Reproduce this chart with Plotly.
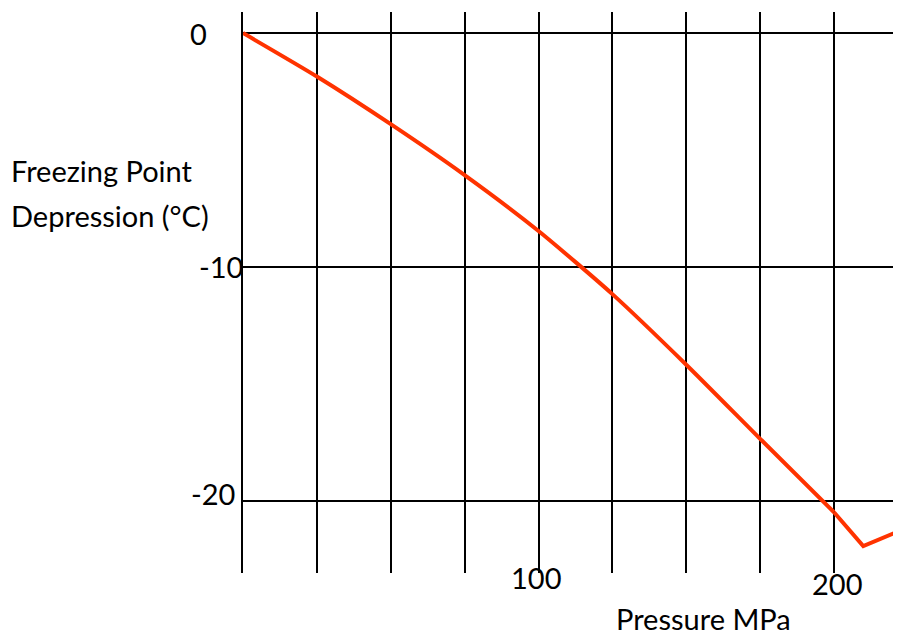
import plotly.graph_objects as go

# Data
pressure_mpa = [0, 25, 50, 75, 100, 125, 150, 175, 200]
freezing_c = [0, -1.86, -3.9, -6.08, -8.47, -11.17, -14.19, -17.36, -20.5]
pressure_tail = [200, 209.9, 222.7]
freezing_tail = [-20.5, -21.95, -21.27]

x_tick_vals = [100, 200]
x_tick_text = ["100", "200"]
y_tick_vals = [0, -10, -20]
y_tick_text = ["0", "-10", "-20"]

x_title = "Pressure MPa"
y_title_lines = ["Freezing Point", "Depression (\u00b0C)"]

# The page body has an 8px margin, so the figure is drawn 8px in from the window corner.
OFF = 8
W, H = 901 - OFF, 637 - OFF
# screen-space plot area: x 243..901, y 12..573
L, R, T = 243 - OFF, 0, 12 - OFF
B = H - (573 - OFF)
PW, PH = W - L - R, H - T - B

def px(xs):
    return (xs - OFF - L) / PW

def py(ys):
    return (H - B - (ys - OFF)) / PH

FONT = "Lato"
FS = 29
LINE_COLOR = "#FF3300"

fig = go.Figure()
fig.add_trace(go.Scatter(x=pressure_mpa, y=freezing_c, mode="lines",
                         line=dict(color=LINE_COLOR, width=4, shape="spline", smoothing=0.6),
                         hoverinfo="skip"))
fig.add_trace(go.Scatter(x=pressure_tail, y=freezing_tail, mode="lines",
                         line=dict(color=LINE_COLOR, width=4),
                         hoverinfo="skip"))

annotations = []
# x tick labels (pixel centres)
x_lab_pos = [(535.5, 577), (837, 583.5)]
for txt, (cx, cy) in zip(x_tick_text, x_lab_pos):
    annotations.append(dict(text=txt, x=px(cx), y=py(cy), xref="paper", yref="paper",
                            xanchor="center", yanchor="middle", showarrow=False,
                            font=dict(family=FONT, size=FS, color="black")))
# y tick labels (right edge, centre y)
y_lab_pos = [(209, 33), (245, 266), (237, 493)]
for txt, (rx, cy) in zip(y_tick_text, y_lab_pos):
    annotations.append(dict(text=txt, x=px(rx), y=py(cy), xref="paper", yref="paper",
                            xanchor="right", yanchor="middle", showarrow=False,
                            font=dict(family=FONT, size=FS, color="black")))
# axis titles
for txt, cy in zip(y_title_lines, [170, 215.5]):
    annotations.append(dict(text=txt, x=px(9), y=py(cy), xref="paper", yref="paper",
                            xanchor="left", yanchor="middle", align="left", showarrow=False,
                            font=dict(family=FONT, size=FS, color="black")))
annotations.append(dict(text=x_title, x=px(614), y=py(618), xref="paper", yref="paper",
                        xanchor="left", yanchor="middle", showarrow=False,
                        font=dict(family=FONT, size=FS, color="black")))

fig.update_layout(
    width=W, height=H,
    margin=dict(l=L, r=R, t=T, b=B, pad=0),
    paper_bgcolor="white", plot_bgcolor="white",
    showlegend=False,
    annotations=annotations,
    xaxis=dict(range=[0, PW / 2.955], tick0=0, dtick=25, showgrid=True,
               gridcolor="black", gridwidth=2, zeroline=False, showline=False,
               showticklabels=False, ticks="", fixedrange=True),
    yaxis=dict(range=[-23.1, 0.9], tick0=0, dtick=10, showgrid=True,
               gridcolor="black", gridwidth=2, zeroline=False, showline=True,
               linecolor="black", linewidth=2, showticklabels=False, ticks="",
               fixedrange=True),
)

fig.write_html("out.html", config={"displayModeBar": False})
